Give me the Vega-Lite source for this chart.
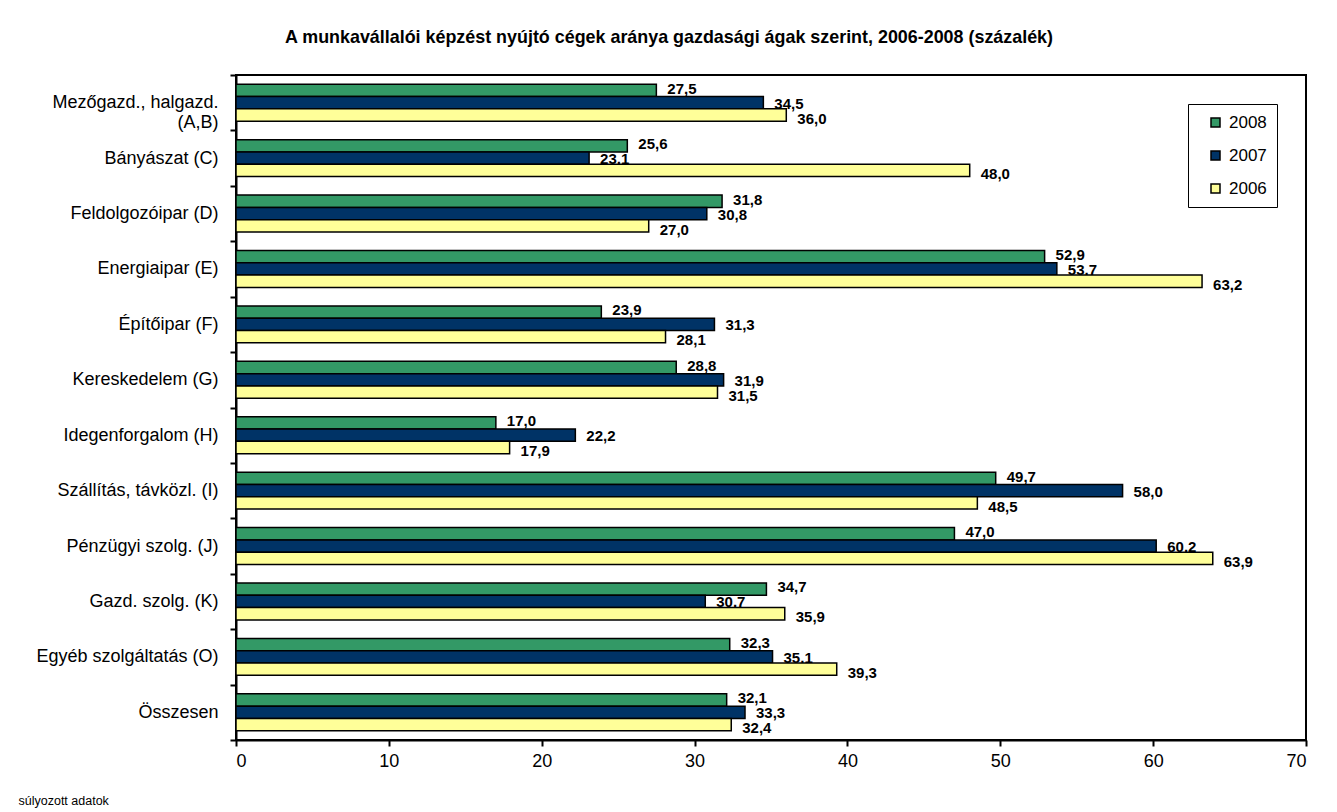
{
  "$schema": "https://vega.github.io/schema/vega-lite/v6.json",
  "width": 1070,
  "height": 665,
  "autosize": "none",
  "padding": {"left": 236, "top": 75, "right": 31, "bottom": 72},
  "background": "white",
  "config": {
    "font": "Liberation Sans",
    "view": {"stroke": "black", "strokeWidth": 2},
    "locale": {"number": {"decimal": ",", "thousands": " ", "grouping": [3], "currency": ["", ""]}}
  },
  "title": {
    "text": "A munkavállalói képzést nyújtó cégek aránya gazdasági ágak szerint, 2006-2008  (százalék)",
    "fontSize": 17.9,
    "fontWeight": "bold",
    "color": "black",
    "anchor": "start",
    "frame": "group",
    "dx": 49,
    "offset": 19
  },
  "data": {
    "values": [
      {"ag": "Mezőgazd., halgazd. (A,B)", "ev": "2008", "v": 27.5},
      {"ag": "Mezőgazd., halgazd. (A,B)", "ev": "2007", "v": 34.5},
      {"ag": "Mezőgazd., halgazd. (A,B)", "ev": "2006", "v": 36.0},
      {"ag": "Bányászat (C)", "ev": "2008", "v": 25.6},
      {"ag": "Bányászat (C)", "ev": "2007", "v": 23.1},
      {"ag": "Bányászat (C)", "ev": "2006", "v": 48.0},
      {"ag": "Feldolgozóipar (D)", "ev": "2008", "v": 31.8},
      {"ag": "Feldolgozóipar (D)", "ev": "2007", "v": 30.8},
      {"ag": "Feldolgozóipar (D)", "ev": "2006", "v": 27.0},
      {"ag": "Energiaipar (E)", "ev": "2008", "v": 52.9},
      {"ag": "Energiaipar (E)", "ev": "2007", "v": 53.7},
      {"ag": "Energiaipar (E)", "ev": "2006", "v": 63.2},
      {"ag": "Építőipar (F)", "ev": "2008", "v": 23.9},
      {"ag": "Építőipar (F)", "ev": "2007", "v": 31.3},
      {"ag": "Építőipar (F)", "ev": "2006", "v": 28.1},
      {"ag": "Kereskedelem (G)", "ev": "2008", "v": 28.8},
      {"ag": "Kereskedelem (G)", "ev": "2007", "v": 31.9},
      {"ag": "Kereskedelem (G)", "ev": "2006", "v": 31.5},
      {"ag": "Idegenforgalom (H)", "ev": "2008", "v": 17.0},
      {"ag": "Idegenforgalom (H)", "ev": "2007", "v": 22.2},
      {"ag": "Idegenforgalom (H)", "ev": "2006", "v": 17.9},
      {"ag": "Szállítás, távközl. (I)", "ev": "2008", "v": 49.7},
      {"ag": "Szállítás, távközl. (I)", "ev": "2007", "v": 58.0},
      {"ag": "Szállítás, távközl. (I)", "ev": "2006", "v": 48.5},
      {"ag": "Pénzügyi szolg. (J)", "ev": "2008", "v": 47.0},
      {"ag": "Pénzügyi szolg. (J)", "ev": "2007", "v": 60.2},
      {"ag": "Pénzügyi szolg. (J)", "ev": "2006", "v": 63.9},
      {"ag": "Gazd. szolg. (K)", "ev": "2008", "v": 34.7},
      {"ag": "Gazd. szolg. (K)", "ev": "2007", "v": 30.7},
      {"ag": "Gazd. szolg. (K)", "ev": "2006", "v": 35.9},
      {"ag": "Egyéb szolgáltatás (O)", "ev": "2008", "v": 32.3},
      {"ag": "Egyéb szolgáltatás (O)", "ev": "2007", "v": 35.1},
      {"ag": "Egyéb szolgáltatás (O)", "ev": "2006", "v": 39.3},
      {"ag": "Összesen", "ev": "2008", "v": 32.1},
      {"ag": "Összesen", "ev": "2007", "v": 33.3},
      {"ag": "Összesen", "ev": "2006", "v": 32.4}
    ]
  },
  "encoding": {
    "y": {
      "field": "ag",
      "type": "nominal",
      "sort": null,
      "scale": {"paddingInner": 0, "paddingOuter": 0},
      "axis": {
        "title": null,
        "tickBand": "extent",
        "labelFontSize": 18,
        "labelColor": "black",
        "labelPadding": 12,
        "labelLimit": 400,
        "labelLineHeight": 20,
        "labelExpr": "datum.value == 'Mezőgazd., halgazd. (A,B)' ? ['Mezőgazd., halgazd.', '(A,B)'] : datum.value",
        "domainColor": "black",
        "domainWidth": 2,
        "tickColor": "black",
        "tickWidth": 2,
        "tickSize": 6
      }
    },
    "x": {
      "field": "v",
      "type": "quantitative",
      "scale": {"domain": [0, 70], "nice": false},
      "axis": {
        "values": [0, 10, 20, 30, 40, 50, 60, 70],
        "grid": false,
        "labelFontSize": 18,
        "labelColor": "black",
        "labelPadding": 6,
        "domainColor": "black",
        "domainWidth": 2,
        "tickColor": "black",
        "tickWidth": 2,
        "tickSize": 6,
        "title": "súlyozott adatok",
        "titleFontSize": 12.5,
        "titleFontWeight": "normal",
        "titleColor": "black",
        "titleAnchor": "start",
        "titleAlign": "left",
        "titleBaseline": "middle",
        "titleX": -218,
        "titleY": 60
      }
    }
  },
  "resolve": {"scale": {"yOffset": "independent"}},
  "layer": [
    {
      "mark": {"type": "text", "align": "left", "baseline": "middle", "dx": 11, "dy": 1, "fontSize": 15, "fontWeight": "bold", "color": "black"},
      "encoding": {
        "yOffset": {
          "field": "ev",
          "type": "nominal",
          "sort": ["2008", "2007", "2006"],
          "scale": {"padding": 0.85}
        },
        "text": {"field": "v", "type": "quantitative", "format": ".1f"}
      }
    },
    {
      "mark": {"type": "bar", "stroke": "black", "strokeWidth": 1.5},
      "encoding": {
        "yOffset": {
          "field": "ev",
          "type": "nominal",
          "sort": ["2008", "2007", "2006"],
          "scale": {"paddingInner": 0, "paddingOuter": 0.75}
        },
        "color": {
          "field": "ev",
          "type": "nominal",
          "scale": {"domain": ["2008", "2007", "2006"], "range": ["#339966", "#003366", "#FFFF99"]},
          "legend": {
            "title": null,
            "orient": "none",
            "legendX": 952,
            "legendY": 29,
            "strokeColor": "black",
            "padding": 10,
            "rowPadding": 15,
            "symbolType": "square",
            "symbolSize": 81,
            "symbolOffset": 9,
            "symbolStrokeColor": "black",
            "symbolStrokeWidth": 1.5,
            "symbolOpacity": 1,
            "labelFontSize": 17,
            "labelColor": "black",
            "labelOffset": 5
          }
        }
      }
    }
  ]
}
